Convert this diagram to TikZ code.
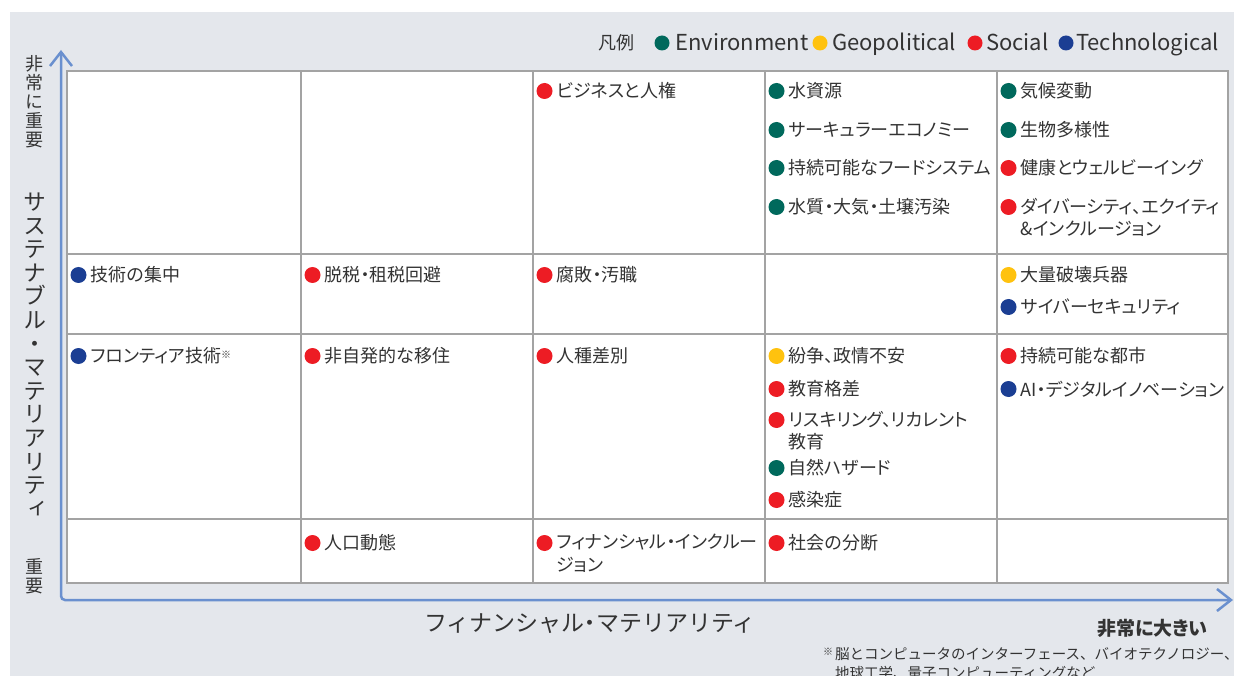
\documentclass[tikz,border=0pt]{standalone}
\usepackage{fontspec}
\setmainfont{Noto Sans CJK JP}[RawFeature=+palt]
\newfontfamily\fullfont{Noto Sans CJK JP}
\newfontfamily\vertfont{Noto Sans CJK JP}[RawFeature=+vert]
\usetikzlibrary{arrows.meta}
\definecolor{bg}{HTML}{E4E7EC}
\definecolor{axisblue}{HTML}{6A90CF}
\definecolor{gridgray}{HTML}{A3A3A3}
\definecolor{txt}{HTML}{333333}
\definecolor{env}{HTML}{00695C}
\definecolor{geo}{HTML}{FFC20E}
\definecolor{soc}{HTML}{ED1C24}
\definecolor{tec}{HTML}{1B3E93}
\newcommand\dotentry[5]{%
  \node[dotmark=#2] (#1d) at ({#3+11.5},#4) {};
  \node[lbl] (#1) at ({#3+23.5},#4) {#5};}
\newcommand\dotentrym[5]{%
  \node[dotmark=#2] (#1d) at ({#3+11.5},#4) {};
  \node[mlbl] (#1) at ({#3+23.5},{#4-9}) {#5};}
\newcommand\refmark{\raisebox{4pt}{\fontsize{10}{10}\selectfont ※}}
\begin{document}
\begin{tikzpicture}[x=1pt,y=-1pt,
  dotmark/.style={circle, fill=#1, minimum size=16pt, inner sep=0pt},
  legdot/.style={circle, fill=#1, minimum size=15pt, inner sep=0pt},
  lbl/.style={anchor=west, inner sep=0pt, text=txt, font=\fontsize{18}{22.5}\selectfont},
  mlbl/.style={lbl, anchor=north west, align=left},
  legtxt/.style={anchor=base west, inner sep=0pt, text=txt, font=\fontsize{22}{24}\selectfont},
  gridline/.style={draw=gridgray, line width=1.8pt},
  axisline/.style={draw=axisblue, line width=2.5pt, rounded corners=4pt},
  vtitle/.style={align=center, inner sep=0pt, text=txt}]
\useasboundingbox (0,0) rectangle (1234,676);
\fill[bg] (10,12) rectangle (1234,676);
% legend
\node[legtxt, font=\fontsize{18}{20}\selectfont] (leg) at (598,50) {凡例};
\node[legdot=env] (legenvd) at (662,43) {};
\node[legtxt] (legenv) at (675,50.5) {Environment};
\node[legdot=geo] (leggeod) at (820,43) {};
\node[legtxt] (leggeo) at (832,50.5) {Geopolitical};
\node[legdot=soc] (legsocd) at (975,43) {};
\node[legtxt] (legsoc) at (986,50.5) {Social};
\node[legdot=tec] (legtecd) at (1066,43) {};
\node[legtxt] (legtec) at (1076,50.5) {Technological};
% grid
\filldraw[fill=white, gridline] (67,71) rectangle (1228,583);
\foreach \gx in {301,533,765,997} \draw[gridline] (\gx,71) -- (\gx,583);
\foreach \gy in {254,334,519} \draw[gridline] (67,\gy) -- (1228,\gy);
% axes
\coordinate (origin) at (61,600);
\coordinate (ytip) at (61,50);
\coordinate (xtip) at (1233,600);
\draw[axisline, {Straight Barb[length=14pt,width=22pt]}-{Straight Barb[length=14pt,width=22pt]}] (ytip) -- (origin) -- (xtip);
% axis labels
\node[vtitle, font=\vertfont\fontsize{18}{19}\selectfont] (yhigh) at (34,102) {非\\常\\に\\重\\要};
\node[vtitle, font=\vertfont\fontsize{23}{23.6}\selectfont] (ytitle) at (35,355) {サ\\ス\\テ\\ナ\\ブ\\ル\\・\\マ\\テ\\リ\\ア\\リ\\テ\\ィ};
\node[vtitle, font=\vertfont\fontsize{18}{19}\selectfont] (ylow) at (34,576) {重\\要};
\node[inner sep=0pt, text=txt, font=\fontsize{23}{26}\selectfont] (xtitle) at (590,624) {{\fullfont フィナンシャル}・{\fullfont マテリアリティ}};
\node[anchor=east, inner sep=0pt, text=txt, font=\bfseries\fontsize{19}{22}\selectfont] (xhigh) at (1208,628) {非常に大きい};
\node[anchor=north west, align=left, inner sep=0pt, text=txt, font=\fullfont\fontsize{14.5}{19}\selectfont] (note) at (823,647)
  {\makebox[12pt][l]{\refmark}脳とコンピュータのインターフェース、バイオテクノロジー、\\\hspace*{12pt}地球工学、量子コンピューティングなど};
% row 1
\dotentry{a3}{soc}{533}{91}{ビジネスと人権}
\dotentry{a4a}{env}{765}{91}{水資源}
\dotentry{a4b}{env}{765}{130}{サーキュラーエコノミー}
\dotentry{a4c}{env}{765}{168}{持続可能なフードシステム}
\dotentry{a4d}{env}{765}{207}{水質・大気・土壌汚染}
\dotentry{a5a}{env}{997}{91}{気候変動}
\dotentry{a5b}{env}{997}{130}{生物多様性}
\dotentry{a5c}{soc}{997}{168}{健康とウェルビーイング}
\dotentrym{a5d}{soc}{997}{207}{ダイバーシティ、エクイティ\\\&インクルージョン}
% row 2
\dotentry{b1}{tec}{67}{275}{技術の集中}
\dotentry{b2}{soc}{301}{275}{脱税・租税回避}
\dotentry{b3}{soc}{533}{275}{腐敗・汚職}
\dotentry{b5a}{geo}{997}{275}{大量破壊兵器}
\dotentry{b5b}{tec}{997}{307}{サイバーセキュリティ}
% row 3
\dotentry{c1}{tec}{67}{356}{フロンティア技術\refmark}
\dotentry{c2}{soc}{301}{356}{非自発的な移住}
\dotentry{c3}{soc}{533}{356}{人種差別}
\dotentry{c4a}{geo}{765}{356}{紛争、政情不安}
\dotentry{c4b}{soc}{765}{389}{教育格差}
\dotentrym{c4c}{soc}{765}{420}{リスキリング、リカレント\\教育}
\dotentry{c4d}{env}{765}{468}{自然ハザード}
\dotentry{c4e}{soc}{765}{500}{感染症}
\dotentry{c5a}{soc}{997}{356}{持続可能な都市}
\dotentry{c5b}{tec}{997}{389}{AI・デジタルイノベーション}
% row 4
\dotentry{d2}{soc}{301}{543}{人口動態}
\dotentrym{d3}{soc}{533}{543}{フィナンシャル・インクルー\\ジョン}
\dotentry{d4}{soc}{765}{543}{社会の分断}
\end{tikzpicture}
\end{document}
